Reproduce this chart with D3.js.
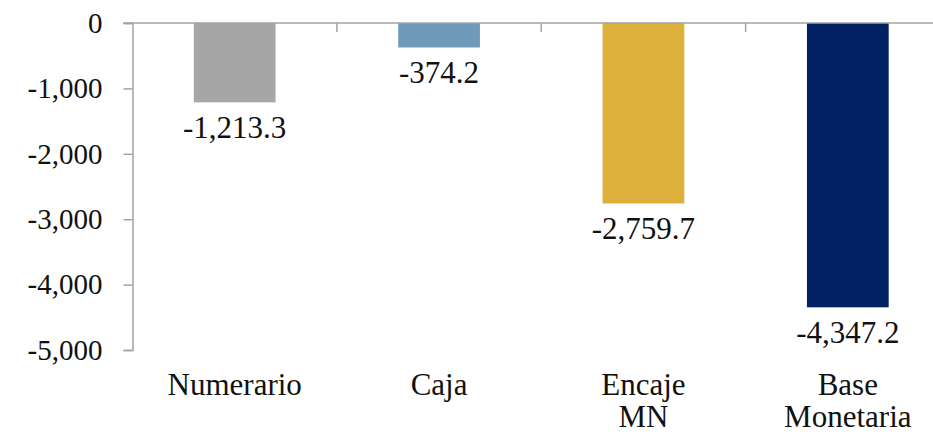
<!DOCTYPE html>
<html>
<head>
<meta charset="utf-8">
<script src="https://cdn.jsdelivr.net/npm/d3@7"></script>
<style>
  body { margin: 0; background: #fff; }
  svg { display: block; font-family: "Liberation Serif", "DejaVu Serif", serif; }
</style>
</head>
<body>
<div id="chart"></div>
<script>
'use strict';

// data
var categories = [ ['Numerario'], ['Caja'], ['Encaje', 'MN'], ['Base', 'Monetaria'] ];
var values = [ -1213.3, -374.2, -2759.7, -4347.2 ];
var colors = [ '#a6a6a6', '#6f9bbb', '#dcb03a', '#022162' ];
var yTicks = [ 0, -1000, -2000, -3000, -4000, -5000 ];

var width = 933,
    height = 434,
    margin = { top: 23, right: -17, bottom: 84, left: 132.5 };

var svg = d3.select( '#chart' )
  .append( 'svg' )
    .attr( 'width', width )
    .attr( 'height', height );

var x = d3.scaleBand()
  .domain( d3.range( values.length ) )
  .range( [ margin.left, width - margin.right ] )
  .paddingInner( 0.6 )
  .paddingOuter( 0.3 );

var y = d3.scaleLinear()
  .domain( [ -5000, 0 ] )
  .range( [ height - margin.bottom, margin.top ] );

var axisColor = '#a3a3a3';
// plain hyphen for the minus sign, like the original
var fmtVal = function( d ) { return d3.format( ',.1f' )( d ).replace( '\u2212', '-' ); };
var fmtTick = function( d ) { return d3.format( ',' )( d ).replace( '\u2212', '-' ); };

// y axis
var yAxis = svg.append( 'g' )
  .attr( 'transform', 'translate(' + margin.left + ',0)' )
  .call( d3.axisLeft( y ).tickValues( yTicks ).tickSize( 9 ).tickPadding( 21 )
    .tickFormat( fmtTick ) );
yAxis.select( '.domain' ).attr( 'stroke', axisColor ).attr( 'stroke-width', 1.5 );
yAxis.selectAll( '.tick line' ).attr( 'stroke', axisColor ).attr( 'stroke-width', 1.5 );
yAxis.selectAll( '.tick text' )
  .attr( 'fill', '#111' )
  .style( 'font-family', '"Liberation Serif", serif' )
  .style( 'font-size', '29px' );

// bars
svg.selectAll( 'rect.bar' )
  .data( values )
  .enter()
  .append( 'rect' )
    .attr( 'class', 'bar' )
    .attr( 'x', function( d, i ) { return x( i ); } )
    .attr( 'y', y( 0 ) )
    .attr( 'width', x.bandwidth() )
    .attr( 'height', function( d ) { return y( d ) - y( 0 ); } )
    .style( 'fill', function( d, i ) { return colors[i]; } );

// zero line with category ticks
svg.append( 'line' )
  .attr( 'x1', margin.left - 9 )
  .attr( 'x2', width )
  .attr( 'y1', y( 0 ) )
  .attr( 'y2', y( 0 ) )
  .style( 'stroke', axisColor )
  .style( 'stroke-width', 1.5 );

svg.selectAll( 'line.cat-tick' )
  .data( d3.range( 1, values.length + 1 ) )
  .enter()
  .append( 'line' )
    .attr( 'class', 'cat-tick' )
    .attr( 'x1', function( i ) { return x( 0 ) - x.step() * 0.3 + i * x.step(); } )
    .attr( 'x2', function( i ) { return x( 0 ) - x.step() * 0.3 + i * x.step(); } )
    .attr( 'y1', y( 0 ) )
    .attr( 'y2', y( 0 ) + 9 )
    .style( 'stroke', axisColor )
    .style( 'stroke-width', 1.5 );

// value labels
svg.selectAll( 'text.val' )
  .data( values )
  .enter()
  .append( 'text' )
    .attr( 'class', 'val' )
    .attr( 'x', function( d, i ) { return x( i ) + x.bandwidth() / 2; } )
    .attr( 'y', function( d ) { return y( d ) + 36; } )
    .style( 'font-size', '31px' )
    .style( 'text-anchor', 'middle' )
    .style( 'fill', '#111' )
    .text( fmtVal );

// category labels
var cat = svg.selectAll( 'text.cat' )
  .data( categories )
  .enter()
  .append( 'text' )
    .attr( 'class', 'cat' )
    .attr( 'x', function( d, i ) { return x( i ) + x.bandwidth() / 2; } )
    .attr( 'y', 395 )
    .style( 'font-size', '31px' )
    .style( 'text-anchor', 'middle' )
    .style( 'fill', '#111' );

cat.selectAll( 'tspan' )
  .data( function( d ) { return d; } )
  .enter()
  .append( 'tspan' )
    .attr( 'x', function() { return d3.select( this.parentNode ).attr( 'x' ); } )
    .attr( 'dy', function( d, i ) { return i === 0 ? 0 : 32; } )
    .text( function( d ) { return d; } );
</script>
</body>
</html>
